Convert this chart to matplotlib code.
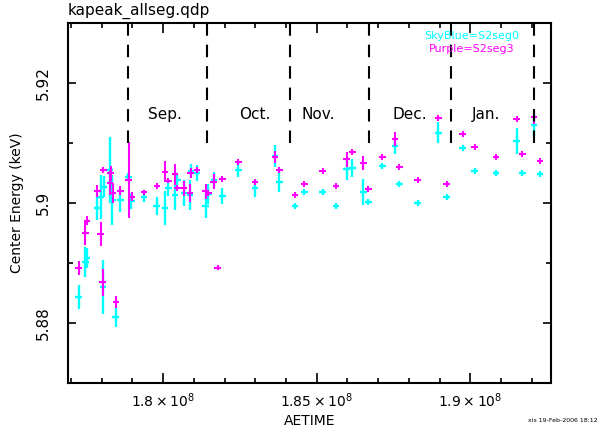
import matplotlib
matplotlib.use('Agg')
import matplotlib.pyplot as plt
from matplotlib.ticker import MultipleLocator, FuncFormatter

# segment 0 (sky blue)
t_seg0 = [1.77249e8, 1.77463e8, 1.77519e8, 1.77854e8, 1.77975e8, 1.78073e8, 1.78040e8,
          1.78258e8, 1.78343e8, 1.78454e8, 1.78604e8, 1.78864e8, 1.78968e8, 1.79376e8,
          1.79789e8, 1.80060e8, 1.80167e8, 1.80385e8, 1.80460e8, 1.80679e8, 1.80874e8,
          1.80904e8, 1.81100e8, 1.81385e8, 1.81470e8, 1.81656e8, 1.81926e8, 1.82447e8,
          1.82991e8, 1.83643e8, 1.83783e8, 1.84294e8, 1.84597e8, 1.85196e8, 1.85630e8,
          1.85978e8, 1.86161e8, 1.86519e8, 1.86682e8, 1.87138e8, 1.87552e8, 1.87692e8,
          1.88291e8, 1.88962e8, 1.89236e8, 1.89757e8, 1.90148e8, 1.90841e8, 1.91516e8,
          1.91698e8, 1.92079e8, 1.92275e8]
e_seg0 = [5.88438, 5.89017, 5.89083, 5.89912, 5.90100, 5.90272, 5.88605,
          5.90550, 5.90050, 5.88105, 5.90050, 5.90433, 5.90033, 5.90092,
          5.89950, 5.89912, 5.90245, 5.90133, 5.90383, 5.90162, 5.90133,
          5.90538, 5.90495, 5.89950, 5.90150, 5.90383, 5.90117, 5.90550,
          5.90255, 5.90783, 5.90350, 5.89950, 5.90178, 5.90178, 5.89955,
          5.90562, 5.90578, 5.90188, 5.90012, 5.90617, 5.90950, 5.90312,
          5.89995, 5.91172, 5.90095, 5.90922, 5.90538, 5.90495, 5.91033,
          5.90505, 5.91300, 5.90483]
err_seg0 = [0.0020, 0.0025, 0.0017, 0.0020, 0.0037, 0.0018, 0.0045,
            0.0055, 0.0042, 0.0017, 0.0020, 0.0007, 0.0013, 0.0008,
            0.0015, 0.0028, 0.0013, 0.0025, 0.0008, 0.0022, 0.0025,
            0.0012, 0.0013, 0.0020, 0.0017, 0.0013, 0.0013, 0.0012,
            0.0015, 0.0018, 0.0017, 0.0005, 0.0005, 0.0005, 0.0005,
            0.0018, 0.0015, 0.0022, 0.0005, 0.0005, 0.0013, 0.0005,
            0.0005, 0.0017, 0.0005, 0.0005, 0.0005, 0.0005, 0.0022,
            0.0005, 0.0018, 0.0005]

# segment 3 (purple)
t_seg3 = [1.77249e8, 1.77463e8, 1.77519e8, 1.77854e8, 1.77959e8, 1.78024e8, 1.78056e8,
          1.78268e8, 1.78291e8, 1.78350e8, 1.78464e8, 1.78604e8, 1.78871e8, 1.78975e8,
          1.79376e8, 1.79799e8, 1.80060e8, 1.80167e8, 1.80385e8, 1.80460e8, 1.80679e8,
          1.80874e8, 1.80900e8, 1.81100e8, 1.81385e8, 1.81470e8, 1.81646e8, 1.81776e8,
          1.81926e8, 1.82447e8, 1.82991e8, 1.83643e8, 1.83783e8, 1.84294e8, 1.84597e8,
          1.85196e8, 1.85630e8, 1.85978e8, 1.86161e8, 1.86519e8, 1.86682e8, 1.87138e8,
          1.87552e8, 1.87692e8, 1.88291e8, 1.88962e8, 1.89236e8, 1.89757e8, 1.90148e8,
          1.90841e8, 1.91516e8, 1.91698e8, 1.92079e8, 1.92275e8]
e_seg3 = [5.88917, 5.89495, 5.89705, 5.90192, 5.89483, 5.88675, 5.90545,
          5.90333, 5.90492, 5.90167, 5.88342, 5.90205, 5.90383, 5.90108,
          5.90175, 5.90283, 5.90522, 5.90375, 5.90478, 5.90245, 5.90245,
          5.90167, 5.90495, 5.90545, 5.90192, 5.90162, 5.90355, 5.88925,
          5.90397, 5.90678, 5.90355, 5.90762, 5.90550, 5.90138, 5.90312,
          5.90533, 5.90288, 5.90728, 5.90855, 5.90662, 5.90228, 5.90762,
          5.91062, 5.90595, 5.90383, 5.91422, 5.90312, 5.91150, 5.90928,
          5.90762, 5.91395, 5.90817, 5.91438, 5.90700]
err_seg3 = [0.0012, 0.0020, 0.0008, 0.0010, 0.0020, 0.0022, 0.0005,
            0.0020, 0.0013, 0.0017, 0.0010, 0.0007, 0.0063, 0.0007,
            0.0005, 0.0005, 0.0018, 0.0005, 0.0018, 0.0005, 0.0013,
            0.0015, 0.0008, 0.0005, 0.0012, 0.0005, 0.0013, 0.0005,
            0.0005, 0.0005, 0.0005, 0.0010, 0.0005, 0.0005, 0.0005,
            0.0005, 0.0005, 0.0012, 0.0005, 0.0012, 0.0005, 0.0005,
            0.0012, 0.0005, 0.0005, 0.0005, 0.0005, 0.0005, 0.0005,
            0.0005, 0.0005, 0.0005, 0.0012, 0.0005]

time_halfwidth = 1.1e5

# month boundaries (Sep 1 2005 ... Feb 1 2006) and labels
month_edges = [1.78848e8, 1.81440e8, 1.84118e8, 1.86710e8, 1.89389e8, 1.92067e8]
month_names = ['Sep.', 'Oct.', 'Nov.', 'Dec.', 'Jan.']
month_label_t = [1.8006e8, 1.82996e8, 1.85043e8, 1.8804e8, 1.90516e8]

plt.rcParams['font.family'] = ['DejaVu Sans']

fig = plt.figure(figsize=(6.09, 4.32), dpi=100)
ax = fig.add_axes([68 / 609, 49 / 432, 483 / 609, 360 / 432])

ax.errorbar(t_seg0, e_seg0, xerr=time_halfwidth, yerr=err_seg0, fmt='none',
            ecolor='#00ffff', elinewidth=1.7, capsize=0)
ax.errorbar(t_seg3, e_seg3, xerr=time_halfwidth, yerr=err_seg3, fmt='none',
            ecolor='#ff00ff', elinewidth=1.5, capsize=0)

for b in month_edges:
    ax.plot([b, b], [5.91, 5.93], color='black', lw=1.5, dashes=(6.0, 4.3))

for name, t in zip(month_names, month_label_t):
    ax.text(t, 5.9148, name, ha='center', va='center', fontsize=11)

ax.text(0.836, 0.965, 'SkyBlue=S2seg0', transform=ax.transAxes, color='#00ffff',
        ha='center', va='center', fontsize=8)
ax.text(0.836, 0.929, 'Purple=S2seg3', transform=ax.transAxes, color='#ff00ff',
        ha='center', va='center', fontsize=8)

ax.set_xlim(1.769e8, 1.9263e8)
ax.set_ylim(5.87, 5.93)

ax.xaxis.set_major_locator(MultipleLocator(0.05e8))
ax.xaxis.set_minor_locator(MultipleLocator(0.01e8))
ax.yaxis.set_major_locator(MultipleLocator(0.02))
ax.yaxis.set_minor_locator(MultipleLocator(0.01))
ax.xaxis.set_major_formatter(FuncFormatter(lambda v, p: r'$%g\times10^{8}$' % round(v / 1e8, 4)))
ax.yaxis.set_major_formatter(FuncFormatter(lambda v, p: '%g' % round(v, 4)))

ax.tick_params(which='both', direction='in', top=True, right=True, width=1.2)
ax.tick_params(axis='x', which='major', length=7, pad=6, labelsize=10)
ax.tick_params(axis='x', which='minor', length=3.6)
ax.tick_params(axis='y', which='major', length=6, pad=12, labelsize=11)
ax.tick_params(axis='y', which='minor', length=3.6)
for lab in ax.get_yticklabels():
    lab.set_rotation(90)
    lab.set_va('center')

for s in ax.spines.values():
    s.set_linewidth(1.5)

ax.set_xlabel('AETIME', fontsize=10)
ax.xaxis.set_label_coords(0.5, -0.085)
ax.set_ylabel('Center Energy (keV)', fontsize=10)
ax.yaxis.set_label_coords(-0.092, 0.5)

fig.text(68 / 609, 1 - 11 / 432, 'kapeak_allseg.qdp', fontsize=11, ha='left', va='center')
fig.text(528 / 609, 1 - 421 / 432, 'xis 19-Feb-2006 18:12', fontsize=4.5, ha='left', va='center')

fig.savefig('out.png', dpi=100)
